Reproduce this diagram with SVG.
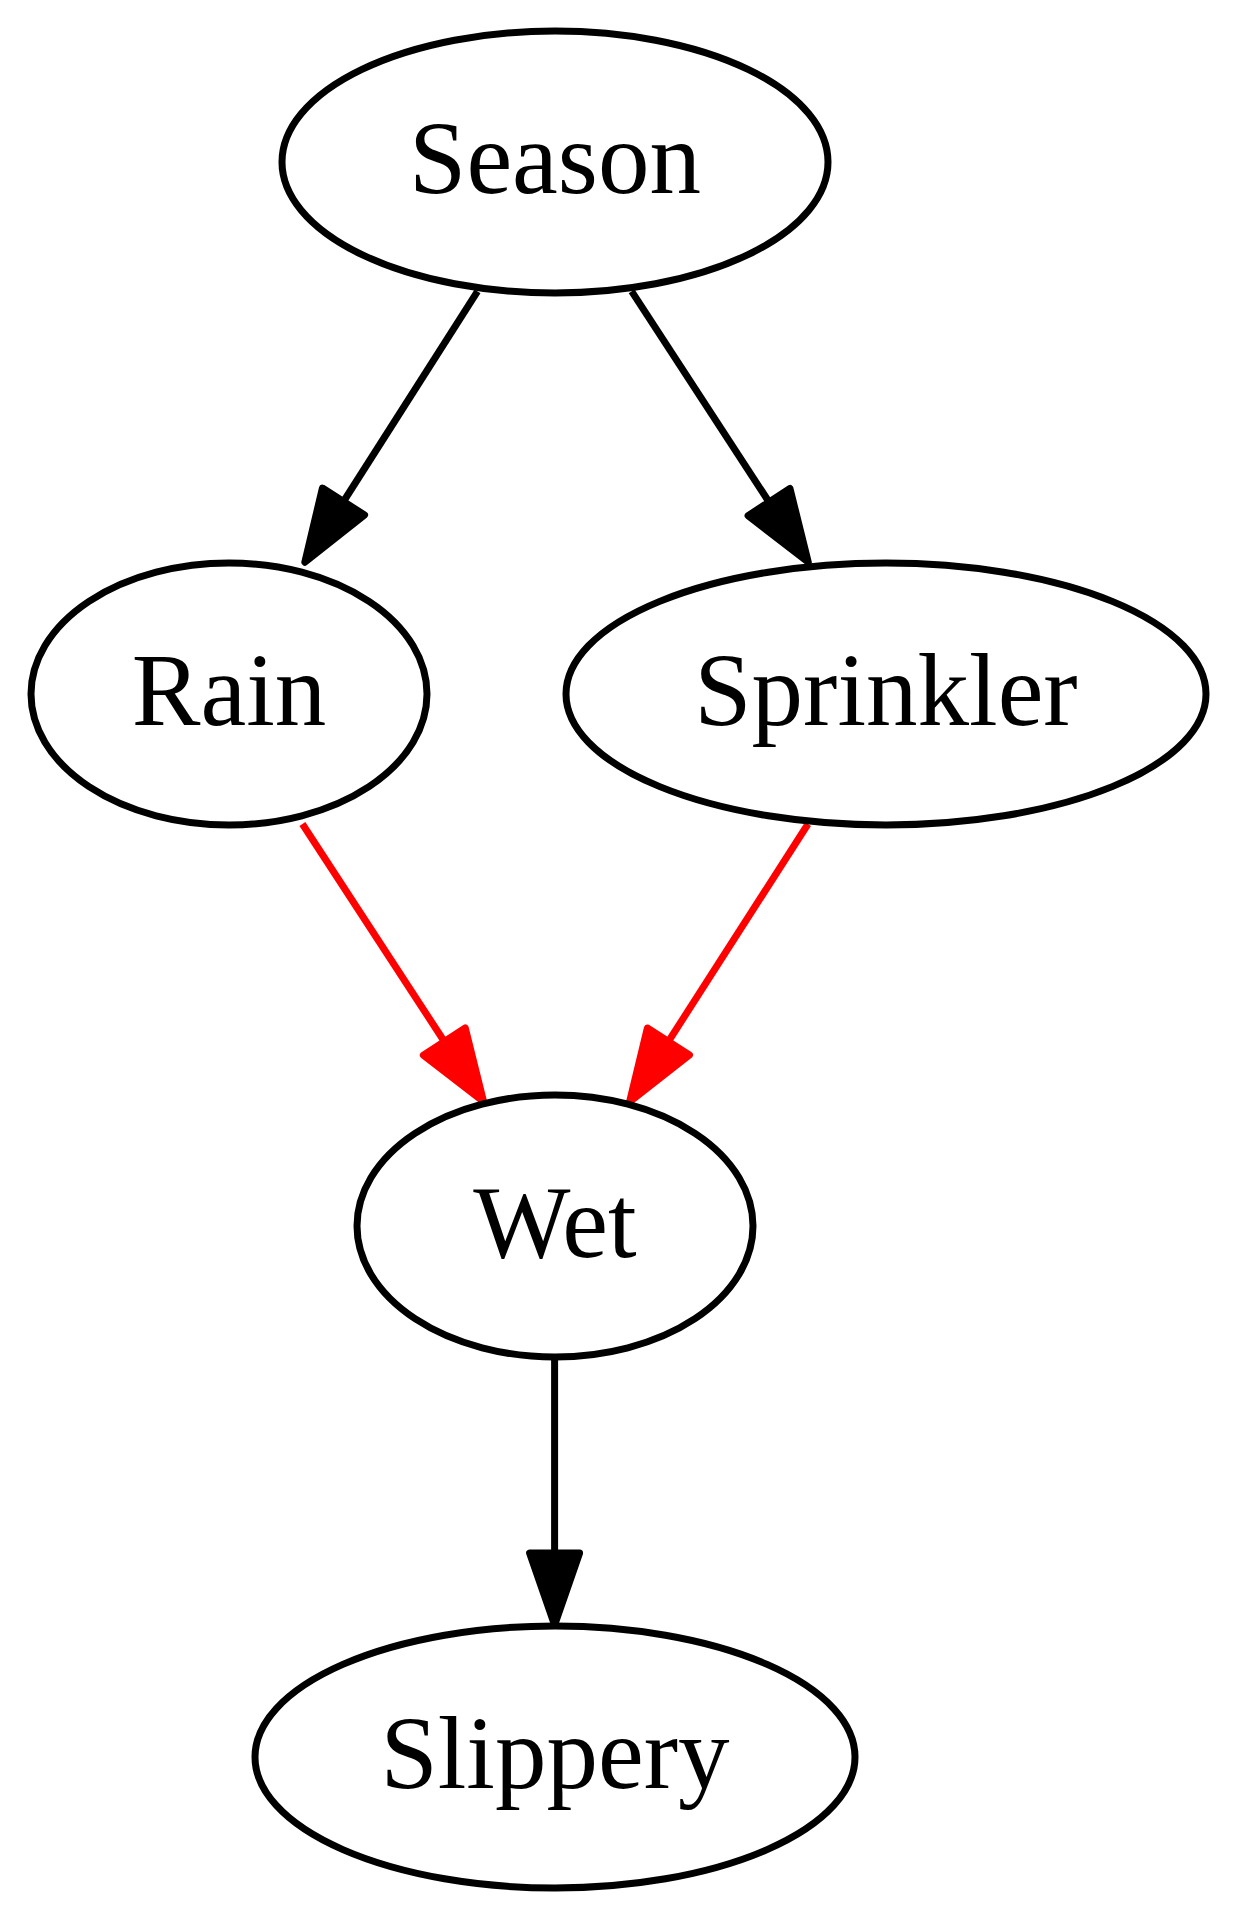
<svg xmlns="http://www.w3.org/2000/svg" width="1239" height="1920" viewBox="0 0 1239 1920">
<style>
.node ellipse{fill:#fff;stroke:#000;stroke-width:7}
.node text{font-family:"Liberation Serif","Times New Roman",serif;font-size:103px;fill:#000;text-anchor:middle}
.e{fill:none;stroke-width:7}
.blk{stroke:#000}
.red{stroke:#f00}
</style>
<defs>
<marker id="ab" markerUnits="userSpaceOnUse" viewBox="-6 -34 88 68" markerWidth="88" markerHeight="68" refX="0" refY="0" orient="auto">
<path d="M0,-25 L72,0 L0,25 Z" fill="#000" stroke="#000" stroke-width="7" stroke-linejoin="round"/>
</marker>
<marker id="ar" markerUnits="userSpaceOnUse" viewBox="-6 -34 88 68" markerWidth="88" markerHeight="68" refX="0" refY="0" orient="auto">
<path d="M0,-25 L72,0 L0,25 Z" fill="#f00" stroke="#f00" stroke-width="7" stroke-linejoin="round"/>
</marker>
</defs>
<rect width="1239" height="1920" fill="#fff"/>
<g id="edges">
<path class="e blk" d="M477.5,291.4 L343.5,501.5" marker-end="url(#ab)"/>
<path class="e blk" d="M631.7,291.4 L769,502" marker-end="url(#ab)"/>
<path class="e red" d="M302.4,824 L444.3,1041.5" marker-end="url(#ar)"/>
<path class="e red" d="M808,824 L668.4,1041.5" marker-end="url(#ar)"/>
<path class="e blk" d="M554.6,1357 L554.6,1553" marker-end="url(#ab)"/>
</g>
<g id="season" class="node"><ellipse cx="555" cy="162" rx="273" ry="131"/><text x="555" y="193">Season</text></g>
<g id="rain" class="node"><ellipse cx="229" cy="694" rx="198" ry="131"/><text x="229" y="725">Rain</text></g>
<g id="sprinkler" class="node"><ellipse cx="886" cy="694" rx="320" ry="131"/><text x="886" y="725">Sprinkler</text></g>
<g id="wet" class="node"><ellipse cx="555" cy="1226" rx="198" ry="131"/><text x="555" y="1257">Wet</text></g>
<g id="slippery" class="node"><ellipse cx="555" cy="1757" rx="300" ry="131"/><text x="555" y="1788">Slippery</text></g>
</svg>
